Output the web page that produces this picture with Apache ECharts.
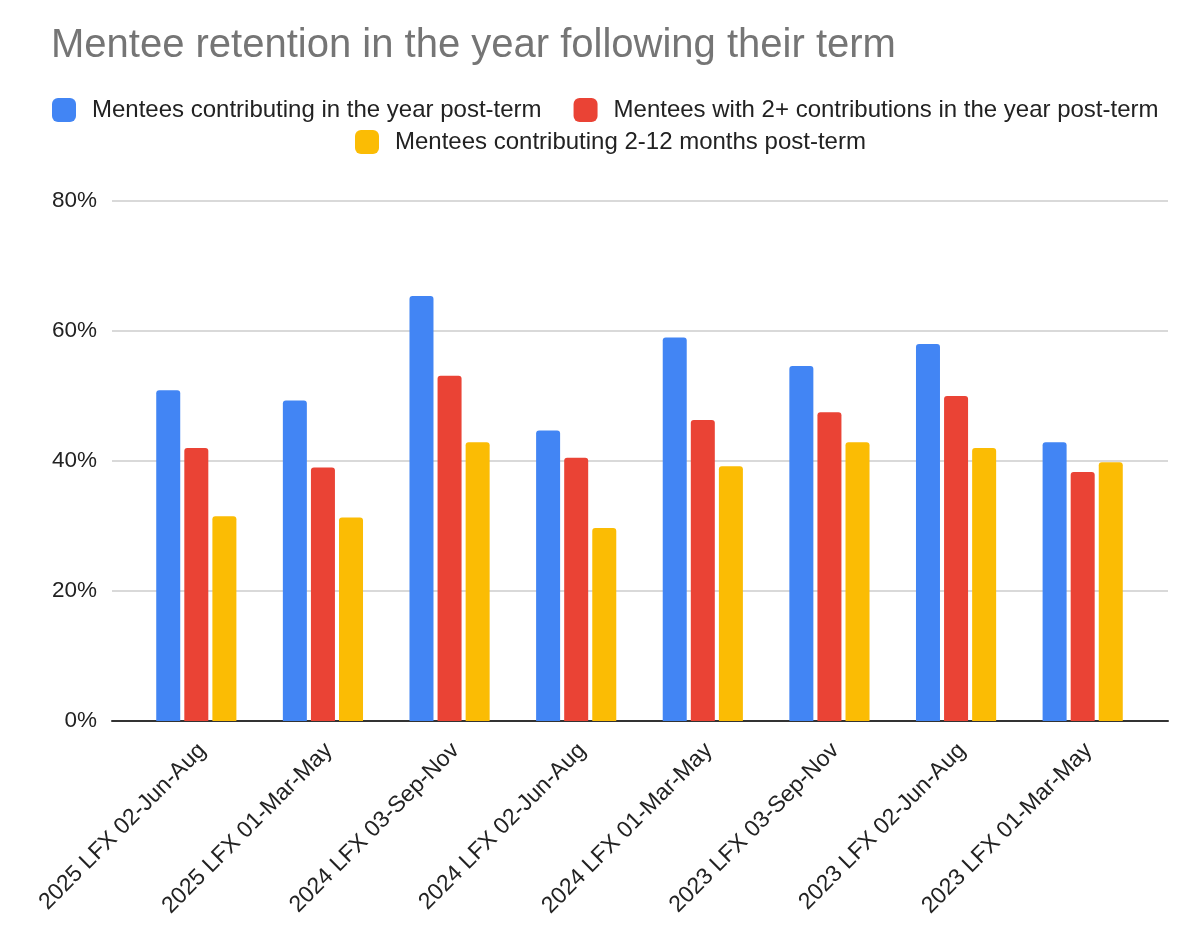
<!DOCTYPE html>
<html>
<head>
<meta charset="utf-8">
<script src="https://cdn.jsdelivr.net/npm/echarts@6/dist/echarts.min.js"></script>
<style>
html,body{margin:0;padding:0;background:#fff;}
#chart{width:1198px;height:942px;}
</style>
</head>
<body>
<div id="chart"></div>
<script>
const categories = [
  '2025 LFX 02-Jun-Aug',
  '2025 LFX 01-Mar-May',
  '2024 LFX 03-Sep-Nov',
  '2024 LFX 02-Jun-Aug',
  '2024 LFX 01-Mar-May',
  '2023 LFX 03-Sep-Nov',
  '2023 LFX 02-Jun-Aug',
  '2023 LFX 01-Mar-May'
];
const seriesNames = [
  'Mentees contributing in the year post-term',
  'Mentees with 2+ contributions in the year post-term',
  'Mentees contributing 2-12 months post-term'
];
const contributingYear = [50.9, 49.3, 65.4, 44.7, 59.0, 54.6, 58.0, 42.9];
const twoPlusContributions = [42.0, 39.0, 53.1, 40.5, 46.3, 47.5, 50.0, 38.3];
const contributing2to12 = [31.5, 31.3, 42.9, 29.7, 39.2, 42.9, 42.0, 39.8];
const yTicks = { min: 0, max: 80, interval: 20 };

const FONT = '"Liberation Sans", Arial, Helvetica, sans-serif';
const colors = ['#4285F4', '#EA4335', '#FBBC04'];
const values = [contributingYear, twoPlusContributions, contributing2to12];

const chart = echarts.init(document.getElementById('chart'), null, { renderer: 'canvas' });
const legendCommon = {
  itemWidth: 24,
  itemHeight: 24,
  itemGap: 32,
  icon: 'roundRect',
  textStyle: { fontFamily: FONT, fontSize: 24, color: '#222', padding: [0, 0, 0, 11] }
};
const yBase = {
  type: 'value',
  min: yTicks.min,
  max: yTicks.max,
  interval: yTicks.interval
};
chart.setOption({
  backgroundColor: '#fff',
  color: colors,
  title: {
    text: 'Mentee retention in the year following their term',
    left: 46,
    top: 21,
    textStyle: { fontFamily: FONT, fontSize: 40, fontWeight: 'normal', color: '#757575' }
  },
  legend: [
    Object.assign({}, legendCommon, { data: [seriesNames[0], seriesNames[1]], left: 47, top: 93 }),
    Object.assign({}, legendCommon, { data: [seriesNames[2]], left: 350, top: 125 })
  ],
  grid: [
    { left: 112, right: 30, top: 201, bottom: 221, containLabel: false },
    { left: 133, right: 52, top: 201, bottom: 221, containLabel: false },
    { left: 139, right: 46, top: 201, bottom: 221, containLabel: false }
  ],
  xAxis: [
    {
      type: 'category',
      gridIndex: 0,
      data: categories,
      axisLine: { lineStyle: { color: '#333', width: 2 } },
      axisTick: { show: false },
      axisLabel: { show: false }
    },
    {
      type: 'category',
      gridIndex: 1,
      data: categories,
      axisLine: { show: false },
      axisTick: { show: false },
      axisLabel: { show: false }
    },
    {
      type: 'category',
      gridIndex: 2,
      data: categories,
      axisLine: { show: false },
      axisTick: { show: false },
      axisLabel: {
        rotate: 45, fontFamily: FONT, fontSize: 23, color: '#222',
        margin: 26, interval: 0
      }
    }
  ],
  yAxis: [
    Object.assign({}, yBase, {
      gridIndex: 0,
      axisLine: { show: false },
      axisTick: { show: false },
      splitLine: { lineStyle: { color: '#cccccc', width: 1.5 } },
      axisLabel: { formatter: '{value}%', fontFamily: FONT, fontSize: 22.5, color: '#222', margin: 15 }
    }),
    Object.assign({}, yBase, { gridIndex: 1, show: false, splitLine: { show: false } }),
    Object.assign({}, yBase, { gridIndex: 2, show: false, splitLine: { show: false } })
  ],
  series: seriesNames.map((name, i) => ({
    name: name,
    type: 'bar',
    xAxisIndex: 1,
    yAxisIndex: 1,
    data: values[i],
    barWidth: 24,
    barGap: '17%',
    itemStyle: { color: colors[i], borderRadius: [3, 3, 0, 0] }
  }))
});
</script>
</body>
</html>
